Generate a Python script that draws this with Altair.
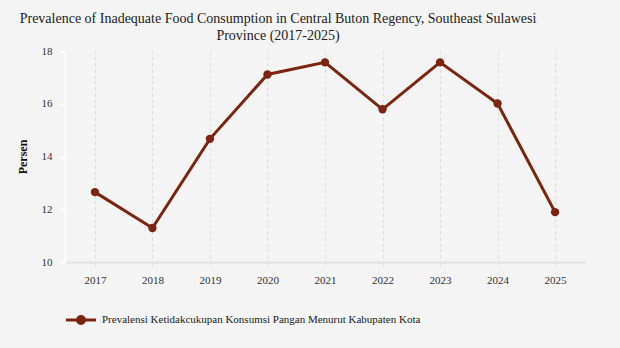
import altair as alt
import pandas as pd

years = ["2017", "2018", "2019", "2020", "2021", "2022", "2023", "2024", "2025"]
values = [12.65, 11.29, 14.67, 17.11, 17.57, 15.79, 17.57, 16.01, 11.89]
series_name = "Prevalensi Ketidakcukupan Konsumsi Pangan Menurut Kabupaten Kota"

df = pd.DataFrame({"year": years, "value": values, "series": [series_name] * len(years)})

COLOR = "#7b2412"
FONT = "Liberation Serif"
legend_path = ("M -1 -0.1 L 1 -0.1 L 1 0.1 L -1 0.1 Z "
               "M -0.33 0 A 0.33 0.33 0 1 1 0.33 0 A 0.33 0.33 0 1 1 -0.33 0 Z")

x = alt.X("year:O", title=None,
          scale=alt.Scale(type="point", padding=0.52),
          axis=alt.Axis(labelAngle=0, labelFont=FONT, labelFontSize=11, labelColor="#333",
                        domainColor="#e2e2e2", domainWidth=2,
                        grid=True, gridColor="#dcdcdc", gridDash=[3, 3], gridWidth=1,
                        ticks=True, tickColor="#dcdcdc", tickSize=4, tickDash=[3, 3],
                        labelPadding=8))
y = alt.Y("value:Q", title="Persen",
          scale=alt.Scale(domain=[10, 18], nice=False, zero=False),
          axis=alt.Axis(values=[10, 12, 14, 16, 18], labelFont=FONT, labelFontSize=11,
                        labelColor="#333", domainColor="white", domainWidth=1.5,
                        tickColor="white", tickSize=6, tickWidth=1.5, grid=False,
                        labelPadding=7, titleFont=FONT, titleFontSize=12,
                        titleFontWeight="bold", titleColor="#111", titlePadding=12))

line = alt.Chart(df).mark_line(strokeWidth=3, color=COLOR).encode(
    x=x, y=y, detail="series:N")

points = alt.Chart(df).mark_circle(size=70, opacity=1).encode(
    x=x, y=y,
    color=alt.Color("series:N", scale=alt.Scale(range=[COLOR]),
                    legend=alt.Legend(title=None, orient="none", legendX=1, legendY=254,
                                      symbolType=legend_path, symbolSize=900,
                                      symbolStrokeWidth=0, labelFont=FONT,
                                      labelFontSize=11, labelColor="#222",
                                      labelOffset=6, labelLimit=600, padding=0)))

chart = alt.layer(line, points).properties(
    width=520, height=211,
    background="#f4f4f4",
    padding={"left": 65, "top": 51, "right": 35, "bottom": 86},
    autosize=alt.AutoSizeParams(type="none"),
    title=alt.TitleParams(
        ["Prevalence of Inadequate Food Consumption in Central Buton Regency, Southeast Sulawesi",
         "Province (2017-2025)"],
        font=FONT, fontSize=14, fontWeight="normal", color="#222",
        anchor="middle", frame="group", dx=-47, lineHeight=17, offset=2),
).configure_view(stroke=None)

chart.save("out.html", embed_options={"renderer": "svg", "actions": False})
